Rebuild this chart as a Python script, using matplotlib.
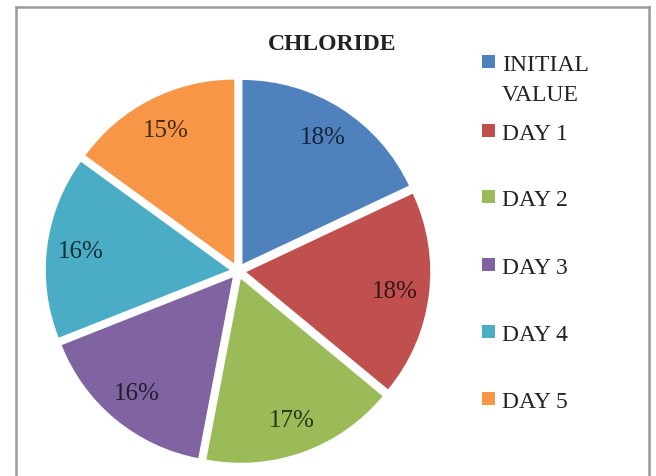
import matplotlib
matplotlib.use("Agg")
import matplotlib.pyplot as plt
from matplotlib.lines import Line2D
from matplotlib.patches import Rectangle
import matplotlib.colors as mcolors

# chloride share per sampling day
labels = ["INITIAL\nVALUE", "DAY 1", "DAY 2", "DAY 3", "DAY 4", "DAY 5"]
values = [18, 18, 17, 16, 16, 15]
colors = ["#4F81BD", "#C0504D", "#9BBB59", "#8064A2", "#4BACC6", "#F79646"]

W, H = 656, 477
fig = plt.figure(figsize=(W / 100, H / 100), dpi=100)
fig.patch.set_facecolor("white")

serif = ["Liberation Serif", "DejaVu Serif"]

# pie axes: square, centred on (238, 272) px from top-left
r_px = 184
cx, cy = 238, 272
half = 200
ax = fig.add_axes([(cx - half) / W, (H - cy - half) / H, 2 * half / W, 2 * half / H])

wedges, texts, autotexts = ax.pie(
    values, colors=colors, startangle=90, counterclock=False,
    explode=[0.045] * len(values), autopct="%1.0f%%", pctdistance=0.815,
    wedgeprops=dict(linewidth=0),
    textprops=dict(fontsize=18, family=serif),
)
for t, c in zip(autotexts, colors):
    rgb = mcolors.to_rgb(c)
    t.set_color(tuple(v * 0.28 for v in rgb))
lim = half / r_px
ax.set_xlim(-lim, lim)
ax.set_ylim(-lim, lim)
ax.set_aspect("equal")
ax.axis("off")

# title
fig.text(332 / W, 1 - 45 / H, "CHLORIDE", ha="center", va="center",
         fontsize=17, fontweight="bold", family=serif, color="#222222")

# legend drawn by hand so the marker sits on the first line
legend_y = [63, 132, 198, 266, 333, 400]
for lab, c, y in zip(labels, colors, legend_y):
    fig.patches.append(Rectangle((482 / W, 1 - (y + 6) / H), 13 / W, 13 / H,
                                 transform=fig.transFigure, facecolor=c,
                                 edgecolor="none"))
    for i, line in enumerate(lab.split("\n")):
        fig.text(502 / W, 1 - (y + i * 30) / H, line, ha="left",
                 va="center_baseline", fontsize=17, family=serif,
                 color="#222222")

# chart frame (left, top, right)
for xs, ys in [([16, 16], [477, 8]), ([16, 649], [8, 8]), ([649, 649], [8, 477])]:
    fig.lines.append(Line2D([x / W for x in xs], [1 - y / H for y in ys],
                            transform=fig.transFigure, color="#9a9a9a",
                            linewidth=1.8))

fig.savefig("out.png", dpi=100)
